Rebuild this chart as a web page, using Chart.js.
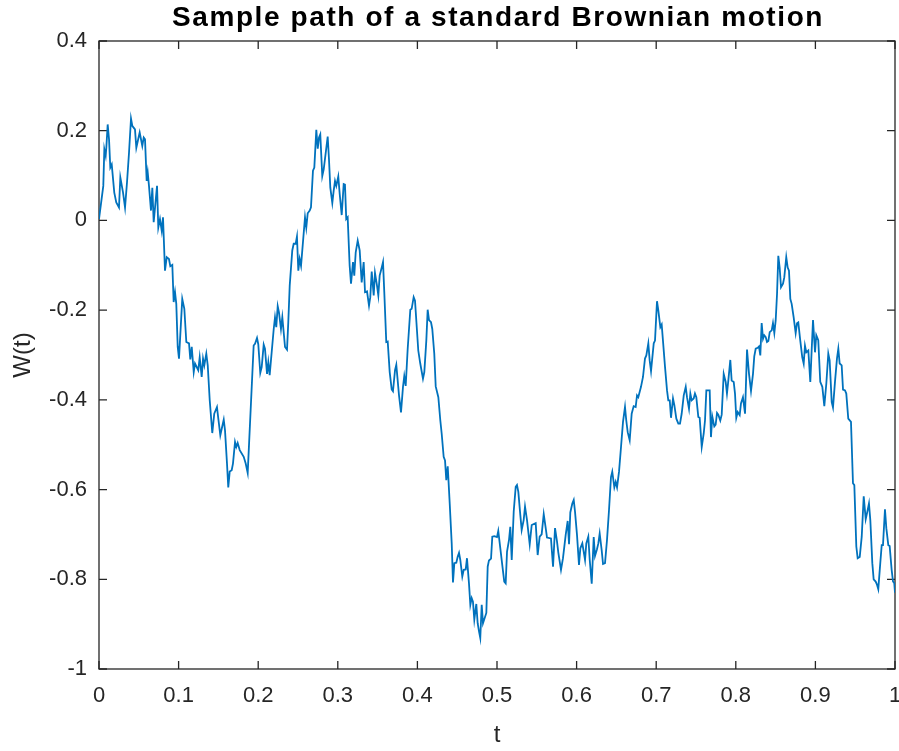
<!DOCTYPE html>
<html>
<head>
<meta charset="utf-8">
<title>Brownian motion</title>
<script src="https://cdn.jsdelivr.net/npm/chart.js@4.4.1/dist/chart.umd.min.js"></script>
<style>
  html, body { margin: 0; padding: 0; background: #fff; }
  #wrap { width: 899px; height: 751px; }
</style>
</head>
<body>
<div id="wrap"><canvas id="pathChart" width="899" height="751"></canvas></div>
<script>
// time grid (t) and path values W(t)
const tValues = [
  0, 0.0054, 0.0067, 0.0084, 0.0092, 0.0109, 0.0126, 0.0142, 0.0160, 0.0192,
  0.0217, 0.0251, 0.0268, 0.0302, 0.0327, 0.0352, 0.0377, 0.0402, 0.0418, 0.0452,
  0.0469, 0.0511, 0.0544, 0.0562, 0.0578, 0.0599, 0.0612, 0.0628, 0.0653, 0.0670,
  0.0687, 0.0729, 0.0745, 0.0766, 0.0788, 0.0804, 0.0829, 0.0851, 0.0879, 0.0896,
  0.0921, 0.0938, 0.0955, 0.0971, 0.0989, 0.1005, 0.1046, 0.1072, 0.1097, 0.1131,
  0.1147, 0.1165, 0.1190, 0.1206, 0.1247, 0.1265, 0.1290, 0.1307, 0.1323, 0.1348,
  0.1366, 0.1391, 0.1423, 0.1448, 0.1482, 0.1499, 0.1524, 0.1567, 0.1583, 0.1608,
  0.1624, 0.1642, 0.1667, 0.1683, 0.1709, 0.1725, 0.1742, 0.1768, 0.1818, 0.1843,
  0.1868, 0.1943, 0.1960, 0.1985, 0.2001, 0.2026, 0.2044, 0.2069, 0.2085, 0.2111,
  0.2127, 0.2144, 0.2195, 0.2211, 0.2227, 0.2245, 0.2261, 0.2286, 0.2303, 0.2337,
  0.2362, 0.2378, 0.2396, 0.2428, 0.2446, 0.2471, 0.2487, 0.2504, 0.2521, 0.2538,
  0.2588, 0.2604, 0.2622, 0.2647, 0.2663, 0.2688, 0.2705, 0.2730, 0.2748, 0.2764,
  0.2780, 0.2805, 0.2823, 0.2873, 0.2889, 0.2906, 0.2931, 0.2948, 0.2965, 0.2981,
  0.3006, 0.3024, 0.3049, 0.3074, 0.3090, 0.3106, 0.3124, 0.3149, 0.3166, 0.3191,
  0.3207, 0.3225, 0.3250, 0.3275, 0.3300, 0.3325, 0.3342, 0.3367, 0.3392, 0.3408,
  0.3426, 0.3451, 0.3467, 0.3492, 0.3509, 0.3526, 0.3552, 0.3568, 0.3584, 0.3609,
  0.3627, 0.3652, 0.3677, 0.3693, 0.3719, 0.3735, 0.3769, 0.3794, 0.3819, 0.3835,
  0.3853, 0.3878, 0.3911, 0.3928, 0.3953, 0.3970, 0.4011, 0.4036, 0.4070, 0.4087,
  0.4112, 0.4129, 0.4146, 0.4171, 0.4187, 0.4212, 0.4230, 0.4263, 0.4288, 0.4305,
  0.4330, 0.4347, 0.4363, 0.4381, 0.4406, 0.4431, 0.4447, 0.4464, 0.4489, 0.4506,
  0.4523, 0.4539, 0.4564, 0.4582, 0.4607, 0.4623, 0.4648, 0.4665, 0.4682, 0.4698,
  0.4715, 0.4740, 0.4757, 0.4774, 0.4790, 0.4808, 0.4824, 0.4866, 0.4883, 0.4899,
  0.4925, 0.4941, 0.4966, 0.5000, 0.5016, 0.5041, 0.5066, 0.5091, 0.5109, 0.5126,
  0.5151, 0.5167, 0.5185, 0.5210, 0.5235, 0.5251, 0.5268, 0.5293, 0.5310, 0.5335,
  0.5352, 0.5377, 0.5411, 0.5436, 0.5486, 0.5511, 0.5536, 0.5561, 0.5587, 0.5612,
  0.5628, 0.5678, 0.5704, 0.5729, 0.5754, 0.5770, 0.5804, 0.5829, 0.5863, 0.5888,
  0.5905, 0.5921, 0.5946, 0.5964, 0.5980, 0.6005, 0.6030, 0.6047, 0.6072, 0.6106,
  0.6122, 0.6147, 0.6165, 0.6190, 0.6215, 0.6231, 0.6256, 0.6273, 0.6290, 0.6315,
  0.6332, 0.6357, 0.6382, 0.6407, 0.6432, 0.6448, 0.6474, 0.6491, 0.6508, 0.6533,
  0.6558, 0.6583, 0.6608, 0.6624, 0.6642, 0.6667, 0.6692, 0.6717, 0.6742, 0.6759,
  0.6775, 0.6809, 0.6834, 0.6859, 0.6876, 0.6901, 0.6918, 0.6935, 0.6969, 0.6985,
  0.7010, 0.7027, 0.7052, 0.7069, 0.7085, 0.7111, 0.7136, 0.7152, 0.7170, 0.7186,
  0.7211, 0.7228, 0.7253, 0.7278, 0.7299, 0.7320, 0.7346, 0.7371, 0.7387, 0.7412,
  0.7429, 0.7446, 0.7471, 0.7487, 0.7504, 0.7529, 0.7546, 0.7572, 0.7597, 0.7613,
  0.7630, 0.7672, 0.7688, 0.7705, 0.7730, 0.7747, 0.7764, 0.7780, 0.7805, 0.7823,
  0.7848, 0.7873, 0.7889, 0.7906, 0.7931, 0.7948, 0.7974, 0.7990, 0.8006, 0.8024,
  0.8049, 0.8065, 0.8090, 0.8116, 0.8141, 0.8166, 0.8191, 0.8216, 0.8232, 0.8250,
  0.8275, 0.8291, 0.8308, 0.8325, 0.8342, 0.8358, 0.8376, 0.8392, 0.8409, 0.8426,
  0.8451, 0.8467, 0.8484, 0.8501, 0.8518, 0.8534, 0.8551, 0.8568, 0.8593, 0.8609,
  0.8634, 0.8652, 0.8668, 0.8685, 0.8702, 0.8727, 0.8752, 0.8769, 0.8785, 0.8810,
  0.8835, 0.8853, 0.8869, 0.8886, 0.8911, 0.8936, 0.8953, 0.8970, 0.8995, 0.9011,
  0.9036, 0.9061, 0.9087, 0.9112, 0.9137, 0.9162, 0.9179, 0.9205, 0.9221, 0.9246,
  0.9271, 0.9288, 0.9305, 0.9330, 0.9347, 0.9372, 0.9388, 0.9413, 0.9447, 0.9472,
  0.9489, 0.9514, 0.9531, 0.9557, 0.9582, 0.9607, 0.9632, 0.9648, 0.9673, 0.9690,
  0.9715, 0.9732, 0.9757, 0.9774, 0.9790, 0.9815, 0.9833, 0.9849, 0.9874, 0.9891,
  0.9916, 0.9933, 0.9958, 0.9975, 0.9991, 1.0
];

const wValues = [
  0.003, 0.077, 0.159, 0.144, 0.162, 0.214, 0.181, 0.118, 0.125, 0.062,
  0.040, 0.029, 0.096, 0.062, 0.029, 0.085, 0.151, 0.227, 0.211, 0.203,
  0.162, 0.196, 0.166, 0.185, 0.181, 0.088, 0.107, 0.077, 0.022, 0.073,
  -0.004, 0.077, -0.016, 0.003, -0.023, 0.007, -0.112, -0.082, -0.086, -0.102,
  -0.099, -0.182, -0.160, -0.186, -0.282, -0.308, -0.175, -0.197, -0.271, -0.274,
  -0.310, -0.282, -0.338, -0.319, -0.334, -0.305, -0.349, -0.308, -0.323, -0.297,
  -0.323, -0.401, -0.474, -0.431, -0.416, -0.442, -0.479, -0.444, -0.468, -0.542,
  -0.595, -0.560, -0.557, -0.542, -0.494, -0.505, -0.496, -0.512, -0.527, -0.542,
  -0.563, -0.279, -0.275, -0.262, -0.276, -0.340, -0.327, -0.277, -0.286, -0.342,
  -0.316, -0.345, -0.242, -0.216, -0.238, -0.191, -0.205, -0.242, -0.216, -0.282,
  -0.288, -0.227, -0.145, -0.067, -0.052, -0.052, -0.036, -0.112, -0.086, -0.101,
  0.007, -0.016, 0.016, 0.022, 0.029, 0.111, 0.118, 0.202, 0.160, 0.185,
  0.192, 0.099, 0.114, 0.187, 0.137, 0.073, 0.039, 0.066, 0.088, 0.077,
  0.098, 0.059, 0.012, 0.081, 0.080, 0.003, 0.007, -0.101, -0.141, -0.093,
  -0.123, -0.071, -0.045, -0.067, -0.138, -0.093, -0.160, -0.158, -0.190, -0.171,
  -0.114, -0.167, -0.117, -0.145, -0.167, -0.123, -0.105, -0.093, -0.160, -0.271,
  -0.270, -0.338, -0.377, -0.381, -0.334, -0.322, -0.390, -0.428, -0.371, -0.347,
  -0.369, -0.286, -0.199, -0.197, -0.171, -0.179, -0.290, -0.319, -0.353, -0.338,
  -0.268, -0.199, -0.222, -0.227, -0.242, -0.297, -0.370, -0.394, -0.446, -0.475,
  -0.527, -0.535, -0.579, -0.548, -0.631, -0.720, -0.807, -0.764, -0.763, -0.750,
  -0.741, -0.757, -0.794, -0.779, -0.778, -0.753, -0.809, -0.857, -0.842, -0.850,
  -0.890, -0.855, -0.898, -0.916, -0.931, -0.857, -0.898, -0.875, -0.772, -0.758,
  -0.754, -0.705, -0.704, -0.706, -0.692, -0.730, -0.768, -0.805, -0.809, -0.738,
  -0.712, -0.683, -0.757, -0.649, -0.594, -0.590, -0.605, -0.657, -0.690, -0.668,
  -0.638, -0.668, -0.722, -0.679, -0.675, -0.746, -0.705, -0.700, -0.655, -0.686,
  -0.707, -0.709, -0.772, -0.686, -0.716, -0.740, -0.779, -0.753, -0.701, -0.670,
  -0.722, -0.651, -0.631, -0.623, -0.649, -0.701, -0.768, -0.731, -0.720, -0.757,
  -0.720, -0.705, -0.757, -0.810, -0.706, -0.748, -0.733, -0.720, -0.698, -0.735,
  -0.766, -0.764, -0.712, -0.646, -0.572, -0.560, -0.595, -0.583, -0.595, -0.560,
  -0.505, -0.449, -0.416, -0.446, -0.472, -0.490, -0.431, -0.414, -0.416, -0.390,
  -0.394, -0.371, -0.349, -0.308, -0.301, -0.274, -0.312, -0.336, -0.274, -0.268,
  -0.180, -0.201, -0.238, -0.232, -0.268, -0.327, -0.379, -0.401, -0.401, -0.440,
  -0.397, -0.412, -0.442, -0.453, -0.453, -0.431, -0.390, -0.371, -0.394, -0.420,
  -0.386, -0.401, -0.397, -0.386, -0.394, -0.438, -0.440, -0.505, -0.475, -0.446,
  -0.379, -0.379, -0.483, -0.437, -0.459, -0.455, -0.429, -0.433, -0.446, -0.433,
  -0.342, -0.360, -0.386, -0.357, -0.311, -0.357, -0.360, -0.386, -0.440, -0.427,
  -0.434, -0.408, -0.394, -0.431, -0.288, -0.342, -0.380, -0.342, -0.303, -0.286,
  -0.284, -0.281, -0.301, -0.229, -0.264, -0.256, -0.260, -0.271, -0.269, -0.249,
  -0.245, -0.229, -0.251, -0.223, -0.164, -0.079, -0.105, -0.149, -0.141, -0.127,
  -0.082, -0.105, -0.112, -0.175, -0.186, -0.216, -0.251, -0.229, -0.227, -0.268,
  -0.305, -0.319, -0.279, -0.294, -0.290, -0.360, -0.290, -0.222, -0.294, -0.256,
  -0.267, -0.360, -0.371, -0.414, -0.364, -0.297, -0.312, -0.405, -0.417, -0.360,
  -0.308, -0.286, -0.319, -0.323, -0.377, -0.379, -0.386, -0.442, -0.449, -0.586,
  -0.590, -0.727, -0.753, -0.750, -0.705, -0.615, -0.666, -0.653, -0.631, -0.668,
  -0.764, -0.800, -0.805, -0.812, -0.822, -0.764, -0.724, -0.724, -0.644, -0.686,
  -0.724, -0.726, -0.779, -0.805, -0.809, -0.830
];

const xTicks = [0, 0.1, 0.2, 0.3, 0.4, 0.5, 0.6, 0.7, 0.8, 0.9, 1];
const yTicks = [-1, -0.8, -0.6, -0.4, -0.2, 0, 0.2, 0.4];
const chartTitle = 'Sample path of a standard Brownian motion';

if (tValues.length !== wValues.length) {
  console.warn('length mismatch', tValues.length, wValues.length);
}

const axisColor = '#262626';
const fontFamily = '"Liberation Sans", Arial, Helvetica, sans-serif';
Chart.defaults.font.family = fontFamily;
Chart.defaults.color = axisColor;

const points = tValues.map((t, i) => ({ x: t, y: wValues[i] }));

// axes box with inward tick marks on all four sides (MATLAB style)
const boxTicks = {
  id: 'boxTicks',
  beforeDatasetsDraw(chart) {
    const { ctx, chartArea: a, scales } = chart;
    const len = 8;
    ctx.save();
    ctx.strokeStyle = axisColor;
    ctx.lineWidth = 1.3;
    ctx.strokeRect(a.left, a.top, a.right - a.left, a.bottom - a.top);
    ctx.beginPath();
    xTicks.forEach(v => {
      const px = scales.x.getPixelForValue(v);
      ctx.moveTo(px, a.bottom); ctx.lineTo(px, a.bottom - len);
      ctx.moveTo(px, a.top); ctx.lineTo(px, a.top + len);
    });
    yTicks.forEach(v => {
      const py = scales.y.getPixelForValue(v);
      ctx.moveTo(a.left, py); ctx.lineTo(a.left + len, py);
      ctx.moveTo(a.right, py); ctx.lineTo(a.right - len, py);
    });
    ctx.stroke();
    ctx.restore();
  }
};

// bold title centred over the axes
const axesTitle = {
  id: 'axesTitle',
  afterDraw(chart) {
    const { ctx, chartArea: a } = chart;
    ctx.save();
    ctx.font = 'bold 28px ' + fontFamily;
    ctx.fillStyle = '#000';
    ctx.textAlign = 'center';
    ctx.textBaseline = 'alphabetic';
    if ('letterSpacing' in ctx) ctx.letterSpacing = '1.6px';
    ctx.fillText(chartTitle, (a.left + a.right) / 2 + 1, 26);
    ctx.restore();
  }
};

const fmt = v => String(Math.round(v * 10) / 10);

const config = {
  type: 'line',
  data: {
    datasets: [{
      data: points,
      borderColor: '#0072BD',
      borderWidth: 1.8,
      pointRadius: 0,
      tension: 0,
      fill: false
    }]
  },
  options: {
    responsive: false,
    animation: false,
    events: [],
    layout: { padding: { top: 41, right: 4, bottom: 0, left: 0 } },
    plugins: {
      legend: { display: false },
      tooltip: { enabled: false },
      title: { display: false }
    },
    scales: {
      x: {
        type: 'linear',
        min: 0,
        max: 1,
        grid: { display: false, drawTicks: false },
        border: { display: false },
        afterBuildTicks: s => { s.ticks = xTicks.map(v => ({ value: v })); },
        afterFit: s => { s.height = 82; s.paddingLeft = 0; s.paddingRight = 0; },
        ticks: {
          callback: fmt,
          font: { size: 22 },
          padding: 14,
          maxRotation: 0,
          autoSkip: false
        },
        title: {
          display: true,
          text: 't',
          font: { size: 24 },
          padding: { top: 0, bottom: 1 }
        }
      },
      y: {
        type: 'linear',
        min: -1,
        max: 0.4,
        grid: { display: false, drawTicks: false },
        border: { display: false },
        afterBuildTicks: s => { s.ticks = yTicks.map(v => ({ value: v })); },
        afterFit: s => { s.width = 99; s.paddingTop = 0; s.paddingBottom = 0; },
        ticks: {
          callback: fmt,
          font: { size: 22 },
          padding: 12,
          autoSkip: false
        },
        title: {
          display: true,
          text: 'W(t)',
          font: { size: 24 },
          padding: { top: 9, bottom: 0 }
        }
      }
    }
  },
  plugins: [boxTicks, axesTitle]
};

const pathChart = new Chart(document.getElementById('pathChart'), config);
</script>
</body>
</html>
